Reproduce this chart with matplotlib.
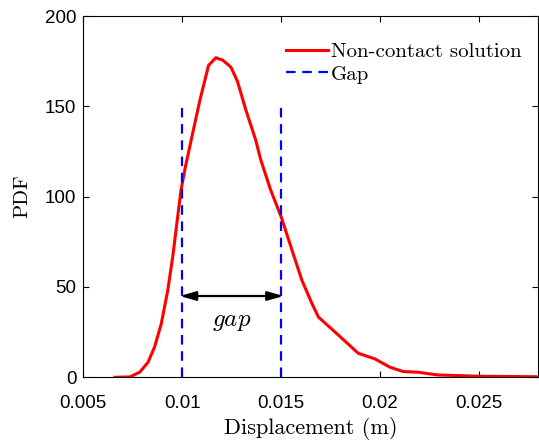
import matplotlib
matplotlib.use("Agg")
import matplotlib.pyplot as plt
from matplotlib.transforms import offset_copy

disp = [0.0066, 0.00735, 0.00785, 0.00827, 0.0086, 0.00894, 0.00927, 0.00952, 0.00977,
        0.00994, 0.01016, 0.01053, 0.0109, 0.01133, 0.0117, 0.01204, 0.01246,
        0.01279, 0.01321, 0.01371, 0.01397, 0.01447, 0.015, 0.01555, 0.01605,
        0.01656, 0.01689, 0.01773, 0.0189, 0.01974, 0.0205, 0.02116, 0.02192, 0.02292,
        0.02493, 0.0279]
pdf = [0.0, 0.2, 2.8, 8.3, 16.7, 29.6, 48.2, 66.7, 88.9,
       103.7, 116.5, 135.2, 153.7, 172.6, 176.9, 175.6, 171.7,
       163.9, 148.2, 131.5, 120.4, 103.7, 88.9, 70.4, 53.7,
       40.8, 33.3, 25.0, 13.3, 10.2, 5.6, 3.2, 2.8, 1.3,
       0.6, 0.3]
gap_x = [0.01, 0.015]
gap_height = 150
arrow_y = 45
xticks = [0.005, 0.01, 0.015, 0.02, 0.025]
xticklabels = ["0.005", "0.01", "0.015", "0.02", "0.025"]
yticks = [0, 50, 100, 150, 200]

plt.rcParams['mathtext.fontset'] = 'cm'
serif = 'cmr10'

fig = plt.figure(figsize=(5.39, 4.42), dpi=100)
ax = fig.add_axes([0.1546, 0.1464, 0.8440, 0.8174])

ax.plot(disp, pdf, color='red', lw=2.2, label='Non-contact solution')
ax.plot([gap_x[0], gap_x[0]], [0, gap_height], color='blue', lw=1.6,
        dashes=(4.3, 3), label='Gap')
ax.plot([gap_x[1], gap_x[1]], [0, gap_height], color='blue', lw=1.6, dashes=(4.3, 3))

ax.annotate('', xy=(gap_x[0], arrow_y), xytext=(gap_x[1], arrow_y),
            xycoords=offset_copy(ax.transData, fig=fig, x=-2.5, y=0, units='dots'),
            textcoords=offset_copy(ax.transData, fig=fig, x=2.5, y=0, units='dots'),
            arrowprops=dict(arrowstyle='<|-|>,head_length=0.6,head_width=0.17',
                            color='black', lw=1.6,
                            mutation_scale=16, shrinkA=0, shrinkB=0))
ax.text((gap_x[0] + gap_x[1]) / 2, 31, r'$gap$', ha='center', va='center', fontsize=18)

ax.set_xlim(0.005, 0.028)
ax.set_ylim(0, 200)
ax.set_xticks(xticks)
ax.set_xticklabels(xticklabels)
ax.set_yticks(yticks)
for lab in ax.get_xticklabels() + ax.get_yticklabels():
    lab.set_fontfamily('Liberation Sans')
    lab.set_fontsize(13.5)
ax.tick_params(direction='in', top=True, right=True, length=4, width=0.8)
ax.tick_params(axis='x', pad=13)
ax.tick_params(axis='y', pad=5)

ax.set_xlabel('Displacement (m)', family=serif, fontsize=16, labelpad=3)
ax.set_ylabel('PDF', family=serif, fontsize=15, labelpad=10)

leg = ax.legend(loc='upper right', frameon=False, prop={'family': serif, 'size': 15},
                handlelength=2.0, handletextpad=0.15, labelspacing=0.2,
                borderaxespad=0, bbox_to_anchor=(0.982, 0.95))

fig.savefig('out.png', dpi=100)
